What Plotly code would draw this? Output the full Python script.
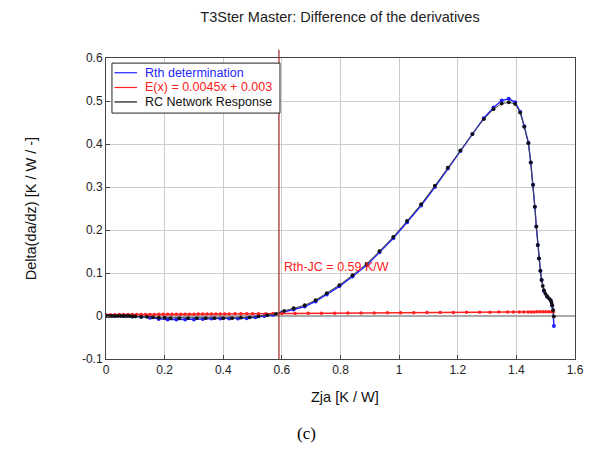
import plotly.graph_objects as go

# RC network response (black)
rc_x = [0.0, 0.01, 0.02, 0.03, 0.04, 0.05, 0.06, 0.07, 0.08, 0.09, 0.10, 0.12, 0.14, 0.16,
        0.18, 0.20, 0.22, 0.25, 0.28, 0.31, 0.34, 0.37, 0.40, 0.43, 0.46, 0.49, 0.52,
        0.55, 0.58, 0.608, 0.64, 0.678, 0.715, 0.753, 0.796, 0.841, 0.889, 0.933,
        0.98, 1.027, 1.075, 1.122, 1.166, 1.209, 1.25, 1.289, 1.322, 1.35, 1.374,
        1.396, 1.413, 1.427, 1.441, 1.449, 1.457, 1.463, 1.468, 1.473, 1.477, 1.482,
        1.486, 1.490, 1.494, 1.499, 1.505, 1.511, 1.517, 1.520, 1.522, 1.525, 1.528]
rc_y = [0.000, 0.000, 0.000, 0.000, 0.000, 0.000, 0.000, 0.000, 0.000, -0.001, -0.001,
        -0.002, -0.002, -0.003, -0.004, -0.004, -0.005, -0.005, -0.005, -0.005, -0.005,
        -0.005, -0.005, -0.005, -0.004, -0.003, -0.001, 0.002, 0.005, 0.012, 0.018,
        0.025, 0.037, 0.053, 0.072, 0.095, 0.121, 0.151, 0.184, 0.221, 0.260, 0.303,
        0.345, 0.385, 0.423, 0.458, 0.481, 0.494, 0.497, 0.493, 0.473, 0.440, 0.402,
        0.357, 0.305, 0.254, 0.208, 0.165, 0.134, 0.105, 0.084, 0.070, 0.060, 0.052,
        0.046, 0.041, 0.037, 0.031, 0.025, 0.014, -0.001]

# Rth determination (blue)
rth_x = [0.0, 0.03, 0.06, 0.09, 0.12, 0.15, 0.18, 0.21, 0.24, 0.27, 0.30, 0.33, 0.36,
         0.39, 0.42, 0.45, 0.48, 0.51, 0.54, 0.57, 0.60, 0.64, 0.678, 0.715, 0.753,
         0.796, 0.841, 0.889, 0.933, 0.98, 1.027, 1.075, 1.122, 1.166, 1.209, 1.25,
         1.289, 1.322, 1.35, 1.374, 1.396, 1.413, 1.427, 1.441, 1.449, 1.457, 1.463,
         1.468, 1.473, 1.477, 1.482, 1.486, 1.494, 1.505, 1.517, 1.522, 1.525, 1.528]
rth_y = [0.000, 0.000, 0.000, -0.001, -0.002, -0.004, -0.007, -0.008, -0.008, -0.008,
         -0.008, -0.007, -0.006, -0.006, -0.006, -0.006, -0.005, -0.003, 0.000, 0.003,
         0.008, 0.015, 0.022, 0.034, 0.050, 0.069, 0.092, 0.118, 0.148, 0.181, 0.218,
         0.257, 0.300, 0.343, 0.384, 0.423, 0.460, 0.485, 0.501, 0.505, 0.497, 0.475,
         0.441, 0.403, 0.357, 0.305, 0.254, 0.208, 0.165, 0.134, 0.105, 0.084, 0.058,
         0.045, 0.036, 0.024, 0.012, -0.023]

# Linear fit E(x) = a*x + b, sampled at these x positions
fit_a = 0.0045
fit_b = 0.003
fit_x = [0.0, 0.015, 0.03, 0.045, 0.06, 0.075, 0.09, 0.105, 0.12, 0.135, 0.15, 0.165,
         0.18, 0.195, 0.21, 0.225, 0.24, 0.255, 0.27, 0.285, 0.30, 0.315, 0.33, 0.345,
         0.36, 0.375, 0.39, 0.405, 0.42, 0.44, 0.46, 0.48, 0.50, 0.52, 0.545, 0.57,
         0.60, 0.645, 0.69, 0.735, 0.78, 0.825, 0.87, 0.915, 0.96, 1.005, 1.05, 1.095,
         1.14, 1.185, 1.23, 1.275, 1.31, 1.34, 1.37, 1.39, 1.41, 1.425, 1.44, 1.45,
         1.46, 1.47, 1.48, 1.49, 1.50, 1.51, 1.52, 1.527]
fit_y = [fit_a * v + fit_b for v in fit_x]

rth_jc = 0.59

legend_names = ["Rth determination", "E(x) = 0.0045x + 0.003", "RC Network Response"]

BLUE = "#1f1fff"
RED = "#ff2020"
BLACK = "#111111"
legend_colors = [BLUE, RED, BLACK]

SANS = "Liberation Sans"

fig = go.Figure()

fig.add_trace(go.Scatter(x=rth_x, y=rth_y, mode="lines+markers",
                         line=dict(color=BLUE, width=1.4),
                         marker=dict(color=BLUE, size=4), showlegend=False))
fig.add_trace(go.Scatter(x=fit_x, y=fit_y, mode="lines+markers",
                         line=dict(color=RED, width=1.4),
                         marker=dict(color=RED, size=3.5), showlegend=False))
fig.add_trace(go.Scatter(x=rc_x, y=rc_y, mode="lines+markers",
                         line=dict(color="#444444", width=1),
                         marker=dict(color=BLACK, size=3.8), showlegend=False))

# Rth-JC marker line
fig.add_shape(type="line", xref="x", yref="paper", x0=rth_jc, x1=rth_jc,
              y0=0, y1=1.027, line=dict(color="#a02020", width=1.2))

fig.add_annotation(x=0.60, y=0.113, xref="x", yref="y", xanchor="left",
                   text=f"Rth-JC = {rth_jc} K/W", showarrow=False,
                   font=dict(color=RED, size=12.5, family=SANS))

# boxed legend in the upper-left corner
fig.add_shape(type="rect", xref="paper", yref="paper", x0=0.0127, x1=0.371,
              y0=0.817, y1=0.983, line=dict(color="#222222", width=1),
              fillcolor="white", layer="above")
row_y = [0.951, 0.902, 0.854]
for name, col, ry in zip(legend_names, legend_colors, row_y):
    fig.add_shape(type="line", xref="paper", yref="paper", x0=0.018, x1=0.066,
                  y0=ry, y1=ry, line=dict(color=col, width=1.2), layer="above")
    fig.add_annotation(x=0.078, y=ry, xref="paper", yref="paper", xanchor="left",
                       yanchor="middle", text=name, showarrow=False,
                       font=dict(color=col, size=12.5, family=SANS))

# axis titles
fig.add_annotation(x=0.51, y=-0.127, xref="paper", yref="paper", yanchor="middle",
                   text="Zja [K / W]", showarrow=False,
                   font=dict(family=SANS, size=14.5, color="#111111"))
fig.add_annotation(x=-(106 - 30) / 474, y=0.5, xref="paper", yref="paper",
                   xanchor="center", yanchor="middle", textangle=-90,
                   text="Delta(da/dz) [K / W / -]", showarrow=False,
                   font=dict(family=SANS, size=14.5, color="#111111"))

# panel label
fig.add_annotation(x=0.428, y=-0.246, xref="paper", yref="paper", yanchor="middle",
                   text="(c)", showarrow=False,
                   font=dict(family="Liberation Serif", size=17, color="black"))

axis_common = dict(showgrid=True, gridcolor="#cccccc", gridwidth=1, showline=True,
                   linecolor="#444444", linewidth=1, mirror=True, ticks="inside",
                   ticklen=4, tickcolor="#444444",
                   tickfont=dict(family=SANS, size=12, color="#222222"))

fig.update_layout(
    width=596, height=457,
    margin=dict(l=106, r=16, t=58, b=98),
    paper_bgcolor="white", plot_bgcolor="white",
    showlegend=False,
    title=dict(text="T3Ster Master: Difference of the derivatives", x=340 / 596,
               xanchor="center", y=1 - 17 / 457, yanchor="middle",
               font=dict(family=SANS, size=14.5, color="#222222")),
    xaxis=dict(range=[0, 1.6], tickvals=[0, 0.2, 0.4, 0.6, 0.8, 1, 1.2, 1.4, 1.6],
               ticktext=["0", "0.2", "0.4", "0.6", "0.8", "1", "1.2", "1.4", "1.6"],
               zeroline=False, **axis_common),
    yaxis=dict(range=[-0.1, 0.6], tickvals=[-0.1, 0, 0.1, 0.2, 0.3, 0.4, 0.5, 0.6],
               ticktext=["-0.1", "0", "0.1", "0.2", "0.3", "0.4", "0.5", "0.6"],
               zeroline=True, zerolinecolor="#aaaaaa", zerolinewidth=2,
               **axis_common),
)

fig.write_html("out.html")
